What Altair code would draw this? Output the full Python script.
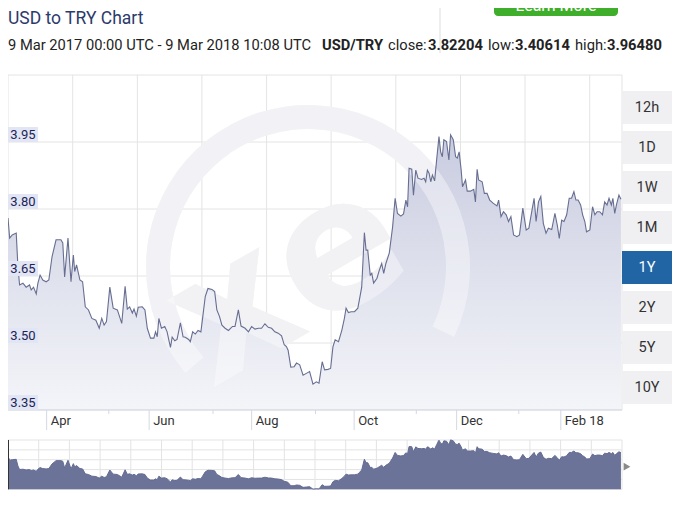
import altair as alt
import pandas as pd

# ---------------- data ----------------
START = pd.Timestamp("2017-03-09 00:00")
END = pd.Timestamp("2018-03-09 10:08")

# days since 9 Mar 2017
day_offsets = [
    0, 1.0, 2.5, 4.9, 5.9, 6.9, 8.9, 10.8, 12.8, 13.8,
    15.2, 16.8, 17.8, 19.1, 20.7, 22.7, 24.3, 26.2, 28.6, 31.5,
    32.6, 33.7, 35.7, 37.5, 38.9, 39.7, 40.8, 42.8, 44.4, 46.0,
    47.9, 49.9, 52.3, 54.3, 55.8, 57.2, 58.6, 60.6, 62.6, 65.1,
    67.7, 69.7, 71.0, 72.4, 74.0, 75.0, 76.4, 77.5, 79.9, 81.5,
    82.9, 84.8, 86.8, 87.8, 88.8, 89.8, 91.3, 93.3, 94.7, 95.7,
    96.7, 97.7, 99.3, 100.6, 102.6, 104.2, 105.5, 107.5, 108.5, 109.9,
    111.5, 113.1, 114.8, 115.8, 117.4, 119.0, 121.4, 123.0, 124.3, 125.9,
    127.3, 129.2, 131.2, 133.6, 135.1, 137.1, 138.7, 141.1, 143.1, 145.0,
    147.0, 149.0, 150.9, 152.9, 154.9, 156.9, 158.8, 160.8, 162.8, 164.4,
    165.7, 166.7, 168.3, 170.3, 171.7, 173.6, 175.6, 177.6, 179.5, 181.5,
    183.5, 185.1, 187.0, 188.4, 190.4, 192.0, 193.4, 194.7, 196.7, 198.7,
    200.2, 201.2, 202.6, 204.2, 206.2, 208.2, 209.1, 210.5, 212.1, 213.1,
    214.1, 215.6, 216.5, 217.6, 219.6, 221.0, 222.4, 223.6, 224.9, 226.9,
    228.9, 230.4, 231.8, 233.8, 235.4, 236.8, 237.8, 238.7, 240.3, 241.3,
    242.7, 244.0, 246.1, 247.6, 248.6, 249.6, 250.6, 251.6, 252.6, 253.9,
    255.1, 256.5, 257.5, 258.5, 259.4, 261.0, 262.4, 263.4, 265.0, 266.4,
    267.4, 268.5, 269.7, 270.5, 272.3, 273.3, 275.2, 277.2, 278.2, 279.2,
    280.1, 282.2, 283.5, 285.1, 286.7, 288.7, 291.0, 292.0, 293.4, 294.9,
    296.5, 297.9, 299.3, 300.9, 302.9, 304.4, 306.4, 308.4, 310.0, 311.7,
    313.1, 314.3, 315.7, 317.1, 318.6, 320.2, 321.6, 323.6, 325.5, 326.9,
    328.1, 329.5, 330.9, 332.5, 334.0, 335.4, 336.8, 338.0, 339.3, 340.8,
    342.0, 343.3, 344.3, 346.3, 347.9, 349.3, 350.6, 352.2, 353.8, 355.1,
    356.5, 357.7, 359.1, 360.0, 361.1, 362.1, 363.6, 364.8,
]

usd_try = [
    3.780, 3.735, 3.742, 3.746, 3.671, 3.630, 3.634, 3.625, 3.630, 3.619,
    3.625, 3.610, 3.634, 3.652, 3.641, 3.637, 3.641, 3.693, 3.731, 3.731,
    3.724, 3.648, 3.735, 3.637, 3.697, 3.660, 3.675, 3.641, 3.637, 3.581,
    3.574, 3.555, 3.551, 3.533, 3.555, 3.540, 3.548, 3.625, 3.578, 3.574,
    3.544, 3.627, 3.576, 3.581, 3.567, 3.576, 3.560, 3.580, 3.581, 3.574,
    3.533, 3.511, 3.511, 3.525, 3.514, 3.555, 3.533, 3.537, 3.525, 3.507,
    3.490, 3.513, 3.505, 3.508, 3.545, 3.514, 3.513, 3.508, 3.503, 3.525,
    3.520, 3.528, 3.525, 3.555, 3.604, 3.622, 3.620, 3.615, 3.574, 3.559,
    3.540, 3.533, 3.528, 3.537, 3.537, 3.574, 3.538, 3.533, 3.525, 3.537,
    3.531, 3.533, 3.533, 3.543, 3.535, 3.533, 3.525, 3.522, 3.516, 3.496,
    3.492, 3.484, 3.446, 3.447, 3.455, 3.451, 3.428, 3.432, 3.436, 3.408,
    3.413, 3.410, 3.458, 3.440, 3.441, 3.443, 3.492, 3.507, 3.503, 3.529,
    3.555, 3.578, 3.568, 3.570, 3.570, 3.578, 3.596, 3.625, 3.747, 3.708,
    3.708, 3.652, 3.656, 3.634, 3.645, 3.663, 3.678, 3.656, 3.678, 3.701,
    3.760, 3.824, 3.790, 3.784, 3.789, 3.820, 3.805, 3.891, 3.889, 3.831,
    3.887, 3.869, 3.866, 3.869, 3.861, 3.887, 3.880, 3.861, 3.876, 3.863,
    3.910, 3.962, 3.928, 3.917, 3.955, 3.951, 3.910, 3.966, 3.955, 3.917,
    3.914, 3.928, 3.887, 3.850, 3.865, 3.840, 3.840, 3.844, 3.816, 3.889,
    3.865, 3.861, 3.835, 3.835, 3.820, 3.813, 3.807, 3.820, 3.783, 3.794,
    3.787, 3.772, 3.783, 3.742, 3.738, 3.742, 3.802, 3.753, 3.757, 3.794,
    3.824, 3.772, 3.816, 3.828, 3.768, 3.746, 3.757, 3.754, 3.790, 3.764,
    3.734, 3.775, 3.772, 3.787, 3.824, 3.824, 3.839, 3.820, 3.820, 3.809,
    3.787, 3.772, 3.749, 3.753, 3.805, 3.787, 3.794, 3.794, 3.787, 3.816,
    3.809, 3.824, 3.809, 3.824, 3.790, 3.809, 3.831, 3.822,
]

close_rate, low_rate, high_rate = 3.82204, 3.40614, 3.96480

y_ticks = [3.35, 3.50, 3.65, 3.80, 3.95]
y_max = 4.10
x_tick_dates = ["2017-04-01", "2017-06-01", "2017-08-01", "2017-10-01", "2017-12-01", "2018-02-01"]
x_tick_labels = ["Apr", "Jun", "Aug", "Oct", "Dec", "Feb 18"]
x_minor_dates = ["2017-05-08", "2017-07-09", "2017-09-08", "2017-11-07", "2018-01-07"]
grid_day_offsets = [0, 38.5, 77.0, 115.4, 153.9, 192.3, 230.8, 269.3, 307.7, 346.2, 365.42]
range_buttons = ["12h", "1D", "1W", "1M", "1Y", "2Y", "5Y", "10Y"]
selected_button = "1Y"

title_text = "USD to TRY Chart"
subtitle_parts = [
    ("9 Mar 2017 00:00 UTC - 9 Mar 2018 10:08 UTC", 0, False),
    ("USD/TRY", 314, True),
    ("close:", 380, False),
    (f"{close_rate:.5f}", 420, True),
    ("low:", 480, False),
    (f"{low_rate:.5f}", 507, True),
    ("high:", 567, False),
    (f"{high_rate:.5f}", 599, True),
]

# ---------------- layout ----------------
W, H = 614, 335
FONT = "Roboto, Liberation Sans, sans-serif"

df = pd.DataFrame({"date": START + pd.to_timedelta(day_offsets, unit="D"), "rate": usd_try})

xscale = alt.Scale(domain=[alt.DateTime(year=2017, month=3, date=9),
                           alt.DateTime(year=2018, month=3, date=9, hours=10, minutes=8)])


def X(field="date"):
    return alt.X(f"{field}:T", scale=xscale, axis=None)


ymain = alt.Scale(domain=[y_ticks[0], y_max], zero=False, nice=False)


def Y(field):
    return alt.Y(f"{field}:Q", scale=ymain, axis=None)


one = pd.DataFrame({"t": ["xe"]})

hgrid = alt.Chart(pd.DataFrame({"v": y_ticks[1:] + [y_max]})).mark_rule(color="#e4e4e4").encode(
    y=Y("v"), x=alt.value(0), x2=alt.value(W))
vgrid = alt.Chart(pd.DataFrame({"date": START + pd.to_timedelta(grid_day_offsets, unit="D")})).mark_rule(
    color="#e4e4e4").encode(x=X(), y=alt.value(0), y2=alt.value(H))

WM_X, WM_Y = 300, 192


def watermark(color, opacity):
    ring = alt.Chart(one).mark_arc(radius=162, radius2=138, theta=4.0, theta2=8.3,
                                   color=color, opacity=opacity).encode(
        x=alt.value(WM_X), y=alt.value(WM_Y))
    xe = alt.Chart(one).mark_text(fontSize=180, fontWeight="bold", angle=330, color=color,
                                  opacity=opacity, font="DejaVu Sans", align="center",
                                  baseline="middle").encode(
        x=alt.value(WM_X - 20), y=alt.value(WM_Y + 15), text="t:N")
    return [ring, xe]


gradient = alt.Gradient(gradient="linear",
                        stops=[alt.GradientStop(color="#f4f5f9", offset=0),
                               alt.GradientStop(color="#c9cce0", offset=1)],
                        x1=1, x2=1, y1=1, y2=0)
area = alt.Chart(df).mark_area(color=gradient, opacity=1).encode(
    x=X(), y=Y("rate"), y2=alt.datum(y_ticks[0]))
line = alt.Chart(df).mark_line(color="#676e91", strokeWidth=1.1).encode(x=X(), y=Y("rate"))

box_h = (y_max - y_ticks[0]) * 15 / H
tick_df = pd.DataFrame({"v": y_ticks, "v2": [v + box_h for v in y_ticks]})
boxes = alt.Chart(tick_df).mark_rect(color="#e2e5f4", opacity=1).encode(
    y=Y("v"), y2="v2", x=alt.value(0), x2=alt.value(30))
ylabels = alt.Chart(tick_df).mark_text(font=FONT, fontSize=13, color="#1b2455", align="center",
                                       baseline="middle", dy=-7.5).encode(
    y=Y("v"), x=alt.value(15), text=alt.Text("v:Q", format=".2f"))

axis_base = alt.Chart(pd.DataFrame({"v": [y_ticks[0]]})).mark_rule(color="#c9cdd9").encode(
    y=Y("v"), x=alt.value(0), x2=alt.value(W))
xt_df = pd.DataFrame({"date": pd.to_datetime(x_tick_dates), "label": x_tick_labels})
major = alt.Chart(xt_df).mark_rule(color="#d4d8e4").encode(x=X(), y=alt.value(H), y2=alt.value(H + 20))
minor = alt.Chart(pd.DataFrame({"date": pd.to_datetime(x_minor_dates)})).mark_rule(color="#d4d8e4").encode(
    x=X(), y=alt.value(H), y2=alt.value(H + 4))
xlabels = alt.Chart(xt_df).mark_text(font=FONT, fontSize=13, color="#333333", align="left",
                                     baseline="middle", dx=4).encode(
    x=X(), y=alt.value(H + 11), text="label:N")

main = alt.layer(vgrid, hgrid, *watermark("#ebebf0", 1), area, *watermark("#ffffff", 0.38), line,
                 axis_base, major, minor, xlabels, boxes, ylabels)

# ---------------- navigator ----------------
NAV_TOP, NAV_BOT = 365, 414.3
nscale = alt.Scale(domain=[low_rate, high_rate], range=[NAV_BOT, NAV_TOP], zero=False, nice=False)
span = END - START
nav_v = alt.Chart(pd.DataFrame({"date": [START + span * i / 20 for i in range(21)]})).mark_rule(
    color="#e3e3e3").encode(x=X(), y=alt.value(NAV_TOP), y2=alt.value(NAV_BOT))
nav_h = alt.Chart(pd.DataFrame({"v": [low_rate + (high_rate - low_rate) * i / 5 for i in range(6)]})).mark_rule(
    color="#e3e3e3").encode(y=alt.Y("v:Q", scale=nscale, axis=None), x=alt.value(0), x2=alt.value(W))
nav_area = alt.Chart(df).mark_area(color="#6b7398", opacity=1,
                                   line={"color": "#646c92", "strokeWidth": 1}).encode(
    x=X(), y=alt.Y("rate:Q", scale=nscale, axis=None), y2=alt.datum(low_rate))
nav_handle = alt.Chart(pd.DataFrame({"date": [START]})).mark_rule(color="#333333", strokeWidth=2).encode(
    x=X(), y=alt.value(NAV_TOP), y2=alt.value(NAV_BOT))
nav_tri = alt.Chart(pd.DataFrame({"date": [END]})).mark_point(
    shape="triangle-right", filled=True, size=60, color="#8a8a8a", opacity=1, xOffset=5).encode(
    x=X(), y=alt.value((NAV_TOP + NAV_BOT) / 2 + 2))
nav = alt.layer(nav_v, nav_h, nav_area, nav_handle, nav_tri)

# ---------------- range buttons ----------------
btn_df = pd.DataFrame({"label": range_buttons,
                       "state": ["on" if b == selected_button else "off" for b in range_buttons]})
bscale = alt.Scale(domain=range_buttons, range=[16, 329], paddingInner=0.175, paddingOuter=0)
btn_rect = alt.Chart(btn_df).mark_rect(opacity=1).encode(
    y=alt.Y("label:N", scale=bscale, axis=None, sort=None),
    x=alt.value(W), x2=alt.value(W + 50),
    fill=alt.Fill("state:N", scale=alt.Scale(domain=["off", "on"], range=["#f0f0f3", "#2265a5"]), legend=None))
btn_text = alt.Chart(btn_df).mark_text(font=FONT, fontSize=14.5, align="center", baseline="middle").encode(
    y=alt.Y("label:N", scale=bscale, axis=None, sort=None),
    x=alt.value(W + 25),
    color=alt.Color("state:N", scale=alt.Scale(domain=["off", "on"], range=["#333333", "#ffffff"]), legend=None),
    text="label:N")
buttons = alt.layer(btn_rect, btn_text)

# ---------------- header ----------------
decor = [
    alt.Chart(one).mark_text(text=title_text, font=FONT, fontSize=17.5, color="#2c3a6b", align="left",
                             baseline="alphabetic").encode(x=alt.value(0), y=alt.value(-51)),
    alt.Chart(one).mark_rect(color="#3fae2a", cornerRadius=4, opacity=1).encode(
        x=alt.value(486), x2=alt.value(610), y=alt.value(-85), y2=alt.value(-59)),
    alt.Chart(one).mark_text(text="Learn More", font=FONT, fontSize=16, color="#ffffff", align="center",
                             baseline="alphabetic").encode(x=alt.value(548), y=alt.value(-64)),
    alt.Chart(one).mark_rule(color="#dddddd").encode(x=alt.value(432), y=alt.value(-70), y2=alt.value(-22)),
]
for txt, px, bold in subtitle_parts:
    decor.append(alt.Chart(one).mark_text(text=txt, font=FONT, fontSize=14.7, color="#222222",
                                          fontWeight="bold" if bold else "normal", align="left",
                                          baseline="alphabetic").encode(x=alt.value(px), y=alt.value(-25)))

chart = alt.layer(main, nav, buttons, *decor).resolve_scale(y="independent").properties(
    width=W, height=H,
    padding={"left": 0, "top": 67, "right": 66, "bottom": 88},
    autosize=alt.AutoSizeParams(type="none"),
    background="white",
).configure_view(strokeWidth=0)

chart.save("out.html", embed_options={"renderer": "svg", "actions": False})
